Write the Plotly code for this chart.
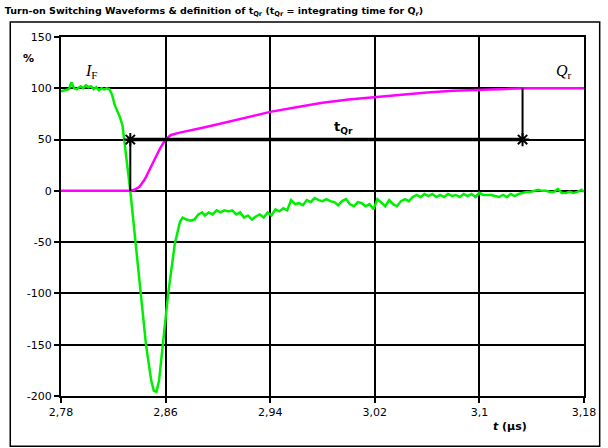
import plotly.graph_objects as go

# Forward current I_F (% of steady-state value) during diode turn-off / switch turn-on
t_if = [2.780, 2.783, 2.786, 2.788, 2.790, 2.792, 2.795, 2.797, 2.799, 2.801,
        2.803, 2.805, 2.807, 2.809, 2.811, 2.813, 2.815, 2.817, 2.819, 2.821,
        2.823, 2.825, 2.827, 2.829, 2.831, 2.833, 2.835, 2.838, 2.841, 2.845,
        2.849, 2.851, 2.853, 2.855, 2.858, 2.862, 2.867, 2.871, 2.873, 2.876,
        2.879, 2.882, 2.885, 2.888, 2.890, 2.893, 2.896, 2.899, 2.902, 2.905,
        2.908, 2.911, 2.914, 2.917, 2.920, 2.923, 2.926, 2.929, 2.932, 2.935,
        2.938, 2.941, 2.944, 2.947, 2.950, 2.953, 2.956, 2.959, 2.962, 2.965,
        2.968, 2.971, 2.974, 2.977, 2.980, 2.983, 2.986, 2.989, 2.992, 2.995,
        2.998, 3.001, 3.004, 3.007, 3.010, 3.013, 3.016, 3.019, 3.022, 3.025,
        3.028, 3.031, 3.034, 3.037, 3.040, 3.043, 3.046, 3.049, 3.052, 3.055,
        3.058, 3.061, 3.064, 3.067, 3.070, 3.073, 3.076, 3.079, 3.082, 3.085,
        3.088, 3.091, 3.094, 3.097, 3.100, 3.103, 3.106, 3.109, 3.112, 3.115,
        3.118, 3.121, 3.124, 3.127, 3.130, 3.133, 3.136, 3.139, 3.142, 3.145,
        3.148, 3.151, 3.154, 3.157, 3.160, 3.163, 3.166, 3.169, 3.172, 3.175,
        3.178, 3.180]
i_f = [97, 98, 99, 106, 100, 99, 102, 100, 103, 101,
       102, 99, 101, 98, 100, 99, 100, 99, 94, 84,
       78, 72, 64, 44, 22, 0, -25, -60, -100, -150,
       -185, -195, -196, -185, -149, -100, -52, -30, -26, -28,
       -29, -28, -23, -21, -24, -21, -23, -19, -21, -19,
       -20, -19, -23, -21, -26, -24, -28, -25, -23, -26,
       -21, -24, -18, -20, -17, -19, -9, -13, -12, -14,
       -9, -11, -7, -9, -10, -8, -10, -11, -14, -10,
       -8, -13, -15, -11, -12, -15, -13, -18, -8, -12,
       -15, -9, -13, -15, -10, -8, -10, -6, -4, -6,
       -3, -5, -3, -6, -4, -6, -3, -5, -4, -6,
       -3, -5, -3, -6, -2, -4, -4, -4, -5, -6,
       -4, -6, -3, -5, -3, -2, -1, -1, 0, 1,
       0, 0, -1, -1, 2, -2, -2, -1, -2, -1,
       1, -1]

# Integrated recovery charge Q_r (% of final value)
t_qr = [2.780, 2.833, 2.836, 2.840, 2.844, 2.848, 2.852, 2.856, 2.860, 2.864,
        2.870, 2.880, 2.890, 2.900, 2.910, 2.920, 2.930, 2.940, 2.960, 2.980,
        3.000, 3.020, 3.040, 3.060, 3.080, 3.100, 3.120, 3.137, 3.180]
q_r = [0, 0, 1, 4, 11, 21, 32, 42, 50, 54.5,
       56.5, 59, 62, 65, 68, 71, 74, 77, 81.5, 86,
       89, 91.5, 94, 96, 97.5, 98.7, 99.4, 100, 100]

# Integration window t_Qr
t_start = 2.833
t_end = 3.133
level = 50

x_ticks = [2.78, 2.86, 2.94, 3.02, 3.10, 3.18]
x_labels = ["2,78", "2,86", "2,94", "3,02", "3,1", "3,18"]
y_ticks = [150, 100, 50, 0, -50, -100, -150, -200]
y_labels = ["150", "100", "50", "0", "-50", "-100", "-150", "-200"]

tick_font = dict(family="DejaVu Sans", size=11, color="black")

fig = go.Figure()

fig.add_trace(go.Scatter(x=t_if, y=i_f, mode="lines",
                         line=dict(color="#00ee00", width=2.5), hoverinfo="skip"))
fig.add_trace(go.Scatter(x=t_qr, y=q_r, mode="lines",
                         line=dict(color="#ff00ff", width=2.5), hoverinfo="skip"))

# t_Qr bar and the two markers defining it
fig.add_trace(go.Scatter(x=[t_start, t_end], y=[level, level], mode="lines",
                         line=dict(color="black", width=3.5), hoverinfo="skip"))
fig.add_trace(go.Scatter(x=[t_start, t_start], y=[0, level], mode="lines",
                         line=dict(color="black", width=2), hoverinfo="skip"))
fig.add_trace(go.Scatter(x=[t_end, t_end], y=[100, level], mode="lines",
                         line=dict(color="black", width=2), hoverinfo="skip"))
fig.add_trace(go.Scatter(x=[t_start, t_end], y=[level, level], mode="markers",
                         marker=dict(symbol="asterisk-open", size=11, color="black",
                                     line=dict(color="black", width=2)),
                         hoverinfo="skip"))

fig.update_layout(
    width=608, height=448,
    margin=dict(l=61, r=22, t=37, b=52),
    paper_bgcolor="white", plot_bgcolor="white",
    showlegend=False,
    title=dict(text="<b>Turn-on Switching Waveforms & definition of t<sub>Qr</sub> "
                    "(t<sub>Qr</sub> = integrating time for Q<sub>r</sub>)</b>",
               x=0.008, xanchor="left", y=0.977, yanchor="middle",
               font=dict(family="DejaVu Sans", size=9.5, color="black")),
    xaxis=dict(range=[2.78, 3.18], tickvals=x_ticks, ticktext=x_labels,
               showgrid=True, gridcolor="black", gridwidth=2,
               showline=True, linecolor="black", linewidth=2, mirror=True,
               ticks="outside", ticklen=5, tickcolor="black", tickwidth=2,
               tickfont=tick_font, zeroline=False),
    yaxis=dict(range=[-200, 150], tickvals=y_ticks, ticktext=y_labels,
               showgrid=True, gridcolor="black", gridwidth=2,
               showline=True, linecolor="black", linewidth=2, mirror=True,
               ticks="outside", ticklen=5, tickcolor="black", tickwidth=2,
               tickfont=tick_font, zeroline=False),
    shapes=[dict(type="rect", xref="paper", yref="paper",
                 x0=-0.097, x1=1.030, y0=-0.140, y1=1.042,
                 line=dict(color="black", width=1.5), layer="below")],
)

serif = dict(family="Liberation Serif", size=16, color="black")
fig.add_annotation(x=2.803, y=116, text="<i>I</i><sub>F</sub>", showarrow=False, font=serif)
fig.add_annotation(x=3.165, y=116, text="<i>Q</i><sub>r</sub>", showarrow=False, font=serif)
fig.add_annotation(x=2.996, y=62, text="<b>t<sub>Qr</sub></b>", showarrow=False,
                   font=dict(family="DejaVu Sans", size=13, color="black"))
fig.add_annotation(xref="paper", yref="paper", x=-0.076, y=0.965, text="<b>%</b>",
                   showarrow=False, font=dict(family="DejaVu Sans", size=11, color="black"))
fig.add_annotation(xref="paper", yref="paper", x=0.895, y=-0.11, text="<b><i>t</i> (µs)</b>",
                   showarrow=False, font=dict(family="DejaVu Sans", size=11, color="black"))

fig.write_html("out.html")
